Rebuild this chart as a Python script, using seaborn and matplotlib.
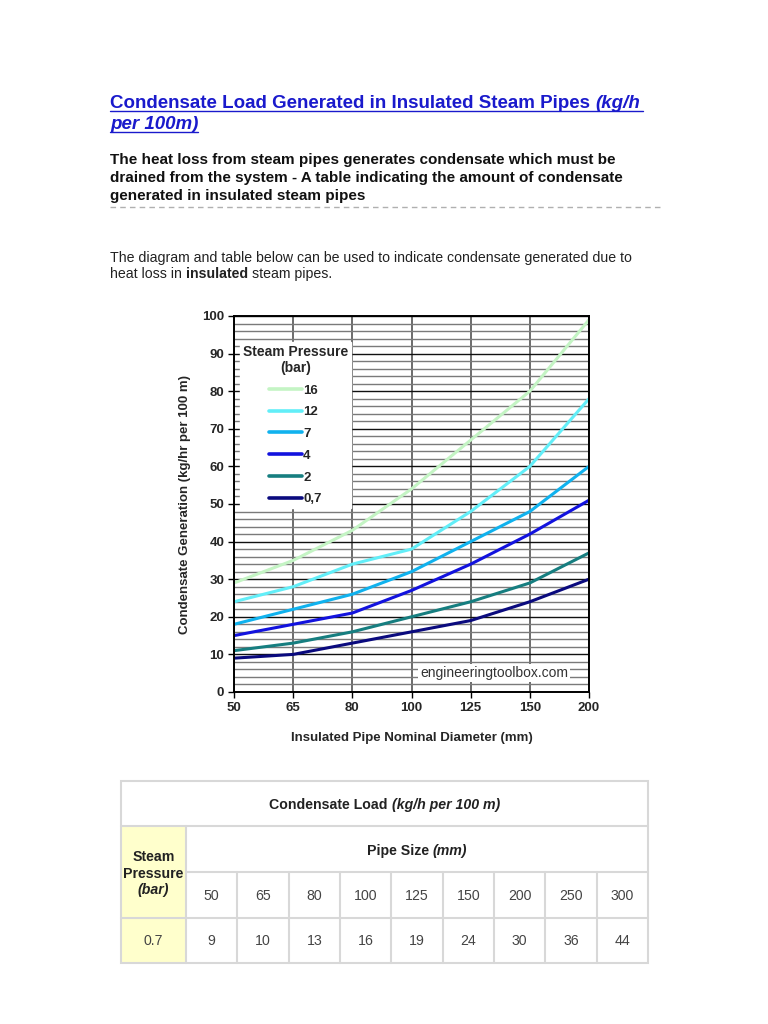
import matplotlib as mpl
import matplotlib.pyplot as plt
import matplotlib.patches as mpatches
from matplotlib.lines import Line2D
import pandas as pd
import seaborn as sns

# chart data (kg/h per 100 m)
pipe_sizes = [50, 65, 80, 100, 125, 150, 200]
pressures = ["16", "12", "7", "4", "2", "0,7"]
load_16 = [29, 35, 43, 54, 67, 80, 99]
load_12 = [24, 28, 34, 38, 48, 60, 78]
load_7 = [18, 22, 26, 32, 40, 48, 60]
load_4 = [15, 18, 21, 27, 34, 42, 51]
load_2 = [11, 13, 16, 20, 24, 29, 37]
load_07 = [9, 10, 13, 16, 19, 24, 30]
line_colors = ["#c4f4c4", "#62eef8", "#10b2ee", "#1212de", "#167e80", "#0a0a7e"]

# table data
table_sizes = [50, 65, 80, 100, 125, 150, 200, 250, 300]
table_load_07 = [9, 10, 13, 16, 19, 24, 30, 36, 44]

sns.set_theme(style="white")
mpl.rcParams["font.family"] = ["Liberation Sans", "DejaVu Sans"]

fig = plt.figure(figsize=(7.68, 10.24), dpi=100)
page = fig.add_axes([0, 0, 1, 1], zorder=0)
page.set_xlim(0, 768)
page.set_ylim(1024, 0)
page.axis("off")
renderer = fig.canvas.get_renderer()


def width_of(txt, size, **style):
    t = page.text(0, 0, txt, fontsize=size, **style)
    w = t.get_window_extent(renderer=renderer).width
    t.remove()
    return w


def runs(x, y, parts, size, color="black", ha="left", va="baseline"):
    # parts: list of (text, style); returns (x_start, x_end)
    widths = []
    for txt, style in parts:
        space = width_of("x x", size, **style) - width_of("xx", size, **style)
        w = width_of(txt.strip(), size, **style) if txt.strip() else 0
        w += space * (len(txt) - len(txt.rstrip()))
        lead = space * (len(txt) - len(txt.lstrip()))
        widths.append((lead, w))
    total = sum(l + w for l, w in widths)
    if ha == "center":
        x = x - total / 2
    x0 = x
    for (txt, style), (lead, w) in zip(parts, widths):
        x += lead
        page.text(x, y, txt.strip(), fontsize=size, color=color, va=va, **style)
        x += w
    return x0, x


# ---- page header ----
B = {"weight": "bold"}
BI = {"weight": "bold", "style": "italic"}
N = {}
blue = "#1a1acc"
a, b = runs(110, 108, [("Condensate Load Generated in Insulated Steam Pipes ", B), ("(kg/h", BI)], 13.5, color=blue)
page.plot([a, b + 3], [111, 111], color=blue, lw=1)
a, b = runs(110, 129, [("per 100m)", BI)], 13.5, color=blue)
page.plot([a, b], [132, 132], color=blue, lw=1)

intro = [
    "The heat loss from steam pipes generates condensate which must be",
    "drained from the system - A table indicating the amount of condensate",
    "generated in insulated steam pipes",
]
for i, line in enumerate(intro):
    page.text(110, 164 + 18 * i, line, fontsize=11, weight="bold", va="baseline", color="#111111")
page.plot([110, 660], [207, 207], color="#b0b0b0", lw=1, ls=(0, (4, 3)))

page.text(110, 262, "The diagram and table below can be used to indicate condensate generated due to",
          fontsize=10.2, va="baseline", color="#222222")
runs(110, 278, [("heat loss in ", N), ("insulated ", B), ("steam pipes.", N)], 10.2, color="#222222")

# ---- chart ----
ax = fig.add_axes([234 / 768, 1 - 692 / 1024, 355 / 768, 376 / 1024], zorder=1)
series = [load_16, load_12, load_7, load_4, load_2, load_07]
rows = []
for p, vals in zip(pressures, series):
    for i, (size, v) in enumerate(zip(pipe_sizes, vals)):
        rows.append({"pos": i, "size": size, "load": v, "pressure": p})
df = pd.DataFrame(rows)
sns.lineplot(data=df, x="pos", y="load", hue="pressure", hue_order=pressures,
             palette=line_colors, linewidth=2.2, legend=False, ax=ax)

ax.set_xlim(0, len(pipe_sizes) - 1)
ax.set_ylim(0, 100)
ax.set_xticks(range(len(pipe_sizes)))
ax.set_xticklabels([str(s) for s in pipe_sizes])
ax.set_yticks(range(0, 101, 10))
ax.set_yticks(range(0, 101, 2), minor=True)
ax.grid(axis="y", which="minor", color="#7a7a7a", lw=1)
ax.grid(axis="y", which="major", color="#111111", lw=1)
ax.grid(axis="x", which="major", color="#444444", lw=1.1)
ax.set_axisbelow(True)
ax.tick_params(axis="both", which="major", direction="out", length=4, width=1, color="black",
               labelsize=9.5, pad=3, left=True, bottom=True)
ax.tick_params(axis="y", which="minor", length=0)
for lab in ax.get_xticklabels() + ax.get_yticklabels():
    lab.set_fontweight("bold")
for s in ax.spines.values():
    s.set_color("black")
    s.set_linewidth(1.4)
ax.set_xlabel("Insulated Pipe Nominal Diameter (mm)", fontsize=9.5, weight="bold", labelpad=13)
ax.set_ylabel("Condensate Generation (kg/hr per 100 m)", fontsize=9.5, weight="bold", labelpad=8)

handles = [Line2D([], [], color=c, lw=2.6) for c in line_colors]
leg = ax.legend(handles, pressures, title="Steam Pressure\n(bar)", loc="upper left",
                bbox_to_anchor=((240 - 234) / 355, (692 - 342) / 376), borderaxespad=0,
                prop={"weight": "bold", "size": 9.5},
                title_fontproperties={"weight": "bold", "size": 10},
                frameon=True, fancybox=False, framealpha=1, edgecolor="white",
                handlelength=2.5, handletextpad=0.1, labelspacing=0.72,
                alignment="center", borderpad=0.2)
leg.get_frame().set_facecolor("white")
leg.get_title().set_multialignment("center")

ax.text((494 - 234) / 355, (692 - 673) / 376, "engineeringtoolbox.com", transform=ax.transAxes,
        ha="center", va="center", fontsize=10, color="#333333",
        bbox=dict(fc="white", ec="none", pad=1.2))

# ---- table ----
grid_c = "#d8d8d8"
x_left, x_first, x_right = 121, 186, 648
col_w = (x_right - x_first) / len(table_sizes)
y_rows = [781, 826, 872, 918, 963]
page.add_patch(mpatches.Rectangle((x_left, y_rows[1]), x_first - x_left, y_rows[3] - y_rows[1],
                                  fc="#ffffcc", ec="none"))
page.add_patch(mpatches.Rectangle((x_left, y_rows[3]), x_first - x_left, y_rows[4] - y_rows[3],
                                  fc="#ffffcc", ec="none"))
page.add_patch(mpatches.Rectangle((x_left, y_rows[0]), x_right - x_left, y_rows[4] - y_rows[0],
                                  fc="none", ec=grid_c, lw=1.5))
page.plot([x_left, x_right], [y_rows[1]] * 2, color=grid_c, lw=1.5)
page.plot([x_first, x_right], [y_rows[2]] * 2, color=grid_c, lw=1.5)
page.plot([x_left, x_right], [y_rows[3]] * 2, color=grid_c, lw=1.5)
page.plot([x_first, x_first], [y_rows[1], y_rows[4]], color=grid_c, lw=1.5)
for j in range(1, len(table_sizes)):
    xx = x_first + j * col_w
    page.plot([xx, xx], [y_rows[2], y_rows[4]], color=grid_c, lw=1.5)

tc = "#222222"
ts = 10.2
runs((x_left + x_right) / 2, 805, [("Condensate Load ", B), ("(kg/h per 100 m)", BI)], ts,
     color=tc, ha="center", va="center")
runs((x_first + x_right) / 2, 851, [("Pipe Size ", B), ("(mm)", BI)], ts,
     color=tc, ha="center", va="center")
page.text((x_left + x_first) / 2, 857, "Steam", fontsize=ts, weight="bold", ha="center", va="center", color=tc)
page.text((x_left + x_first) / 2, 874, "Pressure", fontsize=ts, weight="bold", ha="center", va="center", color=tc)
page.text((x_left + x_first) / 2, 890, "(bar)", fontsize=ts, weight="bold", style="italic",
          ha="center", va="center", color=tc)
page.text((x_left + x_first) / 2, 941, "0.7", fontsize=ts, ha="center", va="center", color="#444444")
for j, (s, v) in enumerate(zip(table_sizes, table_load_07)):
    cx = x_first + (j + 0.5) * col_w
    page.text(cx, 896, str(s), fontsize=ts, ha="center", va="center", color="#444444")
    page.text(cx, 941, str(v), fontsize=ts, ha="center", va="center", color="#444444")

fig.savefig("out.png", dpi=100)
